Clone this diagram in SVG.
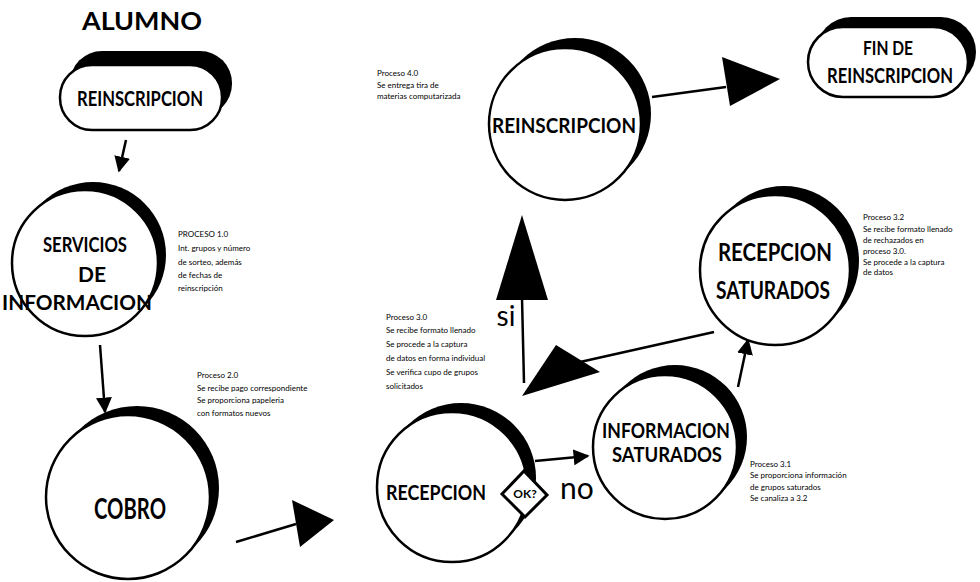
<svg xmlns="http://www.w3.org/2000/svg" width="980" height="582" viewBox="0 0 980 582">
<defs>
<style>
.bg{fill:#fff}
.sh{fill:#000}
.ol{fill:#fff;stroke:#000;stroke-width:2.5}
.lbl{font-family:Lato,"Liberation Sans",sans-serif;font-weight:700;fill:#000;text-anchor:middle}
.note{font-family:Lato,"Liberation Sans",sans-serif;font-size:8px;fill:#000}
.conn{stroke:#000;stroke-width:2.5;fill:none}
.head{fill:#000}
</style>
<marker id="arr" viewBox="0 0 10 10" refX="9" refY="5" markerWidth="16" markerHeight="16" markerUnits="userSpaceOnUse" orient="auto">
<path d="M0,0 L10,5 L0,10 z" fill="#000"/>
</marker>
</defs>
<rect class="bg" x="0" y="0" width="980" height="582"/>

<text class="lbl" x="142" y="30" font-size="24" textLength="120" lengthAdjust="spacingAndGlyphs">ALUMNO</text>

<g id="connectors">
<line class="conn" x1="126" y1="140" x2="119" y2="171" marker-end="url(#arr)"/>
<line class="conn" x1="100" y1="345" x2="105" y2="412" marker-end="url(#arr)"/>
<line class="conn" x1="236" y1="542" x2="296" y2="524"/>
<polygon class="head" points="292,500 334,520 300,547"/>
<line class="conn" x1="535" y1="461" x2="588" y2="456" marker-end="url(#arr)"/>
<line class="conn" x1="738" y1="387" x2="748" y2="340" marker-end="url(#arr)"/>
<line class="conn" x1="714" y1="332" x2="580" y2="362"/>
<polygon class="head" points="556,345 522,396 600,372"/>
<line class="conn" x1="524" y1="383" x2="522" y2="298"/>
<polygon class="head" points="496,300 522,215 548,300"/>
<line class="conn" x1="652" y1="97" x2="726" y2="87"/>
<polygon class="head" points="722,57 780,79 730,106"/>
</g>

<g id="alumno-reinscripcion">
<rect class="sh" x="70" y="51" width="162" height="65" rx="32"/>
<rect class="ol" x="60" y="65" width="162" height="65" rx="32"/>
<text class="lbl" x="140" y="106" font-size="20" textLength="126" lengthAdjust="spacingAndGlyphs">REINSCRIPCION</text>
</g>

<g id="servicios">
<circle class="sh" cx="93" cy="255" r="73"/>
<circle class="ol" cx="85" cy="263" r="73"/>
<text class="lbl" x="85" y="252" font-size="21" textLength="84" lengthAdjust="spacingAndGlyphs">SERVICIOS</text>
<text class="lbl" x="92" y="282" font-size="21">DE</text>
<text class="lbl" x="77" y="310" font-size="21" textLength="150" lengthAdjust="spacingAndGlyphs">INFORMACION</text>
</g>
<g id="nota-1">
<text class="note" x="178" y="237" font-size="9">PROCESO 1.0</text>
<text class="note" x="178" y="251">Int. grupos y número</text>
<text class="note" x="178" y="265">de sorteo, además</text>
<text class="note" x="178" y="278">de fechas de</text>
<text class="note" x="178" y="291">reinscripción</text>
</g>

<g id="cobro">
<circle class="sh" cx="137" cy="488" r="82"/>
<circle class="ol" cx="128" cy="497" r="82"/>
<text class="lbl" x="130" y="519" font-size="28" textLength="72" lengthAdjust="spacingAndGlyphs">COBRO</text>
</g>
<g id="nota-2">
<text class="note" x="197" y="378">Proceso 2.0</text>
<text class="note" x="197" y="391">Se recibe pago correspondiente</text>
<text class="note" x="197" y="403">Se proporciona papeleria</text>
<text class="note" x="197" y="416">con formatos nuevos</text>
</g>

<g id="recepcion">
<circle class="sh" cx="461" cy="478" r="75"/>
<circle class="ol" cx="452" cy="487" r="75"/>
<text class="lbl" x="436" y="500" font-size="20" textLength="100" lengthAdjust="spacingAndGlyphs">RECEPCION</text>
<polygon points="502,494 524,471 547,495 525,517" fill="#fff" stroke="#000" stroke-width="3"/>
<text class="lbl" x="525" y="498" font-size="12">OK?</text>
</g>
<g id="nota-3">
<text class="note" x="386" y="320">Proceso 3.0</text>
<text class="note" x="386" y="333">Se recibe formato llenado</text>
<text class="note" x="386" y="347">Se procede a la captura</text>
<text class="note" x="386" y="361">de datos en forma individual</text>
<text class="note" x="386" y="375">Se verifica cupo de grupos</text>
<text class="note" x="386" y="389">solicitados</text>
</g>

<text class="lbl" x="506" y="326" font-size="28" style="font-weight:400">si</text>
<text class="lbl" x="577" y="499" font-size="30" style="font-weight:400">no</text>

<g id="informacion-saturados">
<circle class="sh" cx="675" cy="437" r="72"/>
<circle class="ol" cx="665" cy="447" r="72"/>
<text class="lbl" x="666" y="438" font-size="20" textLength="128" lengthAdjust="spacingAndGlyphs">INFORMACION</text>
<text class="lbl" x="667" y="462" font-size="20" textLength="110" lengthAdjust="spacingAndGlyphs">SATURADOS</text>
</g>
<g id="nota-31">
<text class="note" x="750" y="467">Proceso 3.1</text>
<text class="note" x="750" y="478">Se proporciona información</text>
<text class="note" x="750" y="490">de grupos saturados</text>
<text class="note" x="750" y="501">Se canaliza a 3.2</text>
</g>

<g id="recepcion-saturados">
<circle class="sh" cx="784" cy="261" r="75"/>
<circle class="ol" cx="775" cy="270" r="75"/>
<text class="lbl" x="775" y="261" font-size="25" textLength="114" lengthAdjust="spacingAndGlyphs">RECEPCION</text>
<text class="lbl" x="773" y="299" font-size="25" textLength="114" lengthAdjust="spacingAndGlyphs">SATURADOS</text>
</g>
<g id="nota-32">
<text class="note" x="863" y="220">Proceso 3.2</text>
<text class="note" x="863" y="232">Se recibe formato llenado</text>
<text class="note" x="863" y="243">de rechazados en</text>
<text class="note" x="863" y="254">proceso 3.0.</text>
<text class="note" x="863" y="265">Se procede a la captura</text>
<text class="note" x="863" y="275">de datos</text>
</g>

<g id="reinscripcion">
<circle class="sh" cx="575" cy="114" r="76"/>
<circle class="ol" cx="565" cy="124" r="76"/>
<text class="lbl" x="564" y="133" font-size="21" textLength="144" lengthAdjust="spacingAndGlyphs">REINSCRIPCION</text>
</g>
<g id="nota-4">
<text class="note" x="377" y="76">Proceso 4.0</text>
<text class="note" x="377" y="88">Se entrega tira de</text>
<text class="note" x="377" y="99">materias computarizada</text>
</g>

<g id="fin">
<rect class="sh" x="816" y="17" width="160" height="70" rx="35"/>
<rect class="ol" x="808" y="27" width="160" height="70" rx="35"/>
<text class="lbl" x="888" y="55" font-size="18" textLength="50" lengthAdjust="spacingAndGlyphs">FIN DE</text>
<text class="lbl" x="890" y="83" font-size="20" textLength="126" lengthAdjust="spacingAndGlyphs">REINSCRIPCION</text>
</g>
</svg>
